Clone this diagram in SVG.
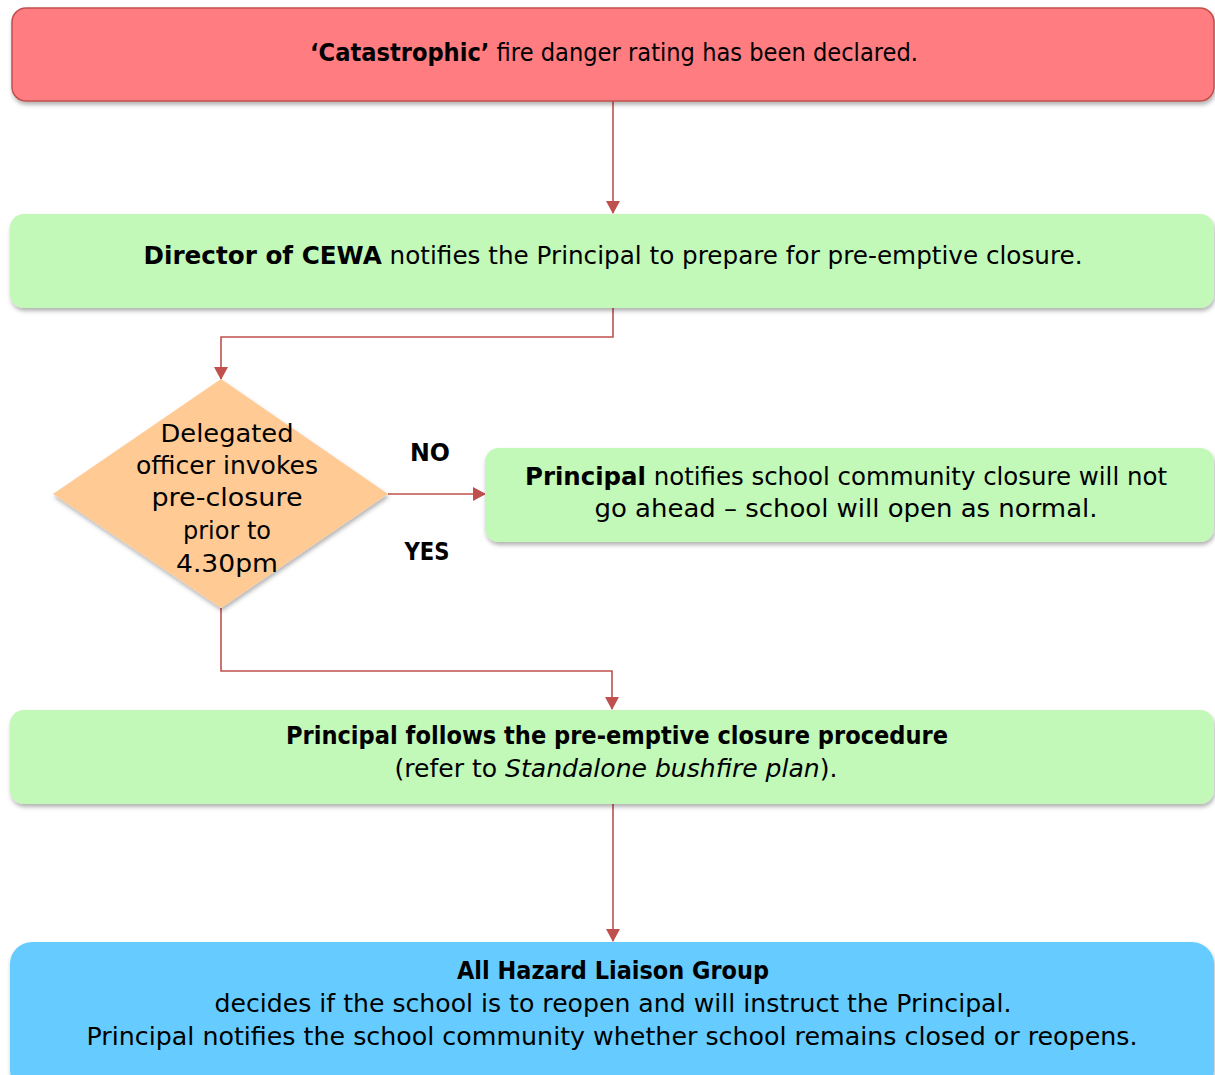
<svg xmlns="http://www.w3.org/2000/svg" width="1215" height="1075" viewBox="0 0 1215 1075">
<style>
text{font-family:"DejaVu Sans","Liberation Sans",sans-serif;fill:#000;}
.t{font-size:24px;text-anchor:middle;}
.b{font-weight:bold;}
.con{fill:none;stroke:#C0504D;stroke-width:1.6;}
</style>
<defs>
<filter id="sh" x="-5%" y="-20%" width="110%" height="150%">
<feDropShadow dx="1" dy="3" stdDeviation="2" flood-color="#000" flood-opacity="0.3"/>
</filter>
<marker id="ah" markerWidth="14" markerHeight="14" refX="12" refY="7" orient="auto" markerUnits="userSpaceOnUse">
<path d="M0,0 L13,7 L0,14 Z" fill="#C0504D"/>
</marker>
</defs>
<rect width="1215" height="1075" fill="#fff"/>
<g id="connectors">
<path class="con" d="M613,101 V213" marker-end="url(#ah)"/>
<path class="con" d="M613,308 V337 H221 V379" marker-end="url(#ah)"/>
<path class="con" d="M388,494 H485" marker-end="url(#ah)"/>
<path class="con" d="M221,608 V671 H612 V709" marker-end="url(#ah)"/>
<path class="con" d="M613,804 V941" marker-end="url(#ah)"/>
</g>
<g id="n1">
<rect x="12" y="8" width="1202" height="93" rx="14" fill="#FF7C80" stroke="#C0504D" stroke-width="1.5" filter="url(#sh)"/>
<text class="t" x="614" y="61" textLength="608" lengthAdjust="spacingAndGlyphs"><tspan class="b">‘Catastrophic’</tspan> fire danger rating has been declared.</text>
</g>
<g id="n2">
<rect x="10" y="214" width="1204" height="94" rx="14" fill="#C2F8B8" filter="url(#sh)"/>
<text class="t" x="613" y="264" textLength="939" lengthAdjust="spacingAndGlyphs"><tspan class="b">Director of CEWA</tspan> notifies the Principal to prepare for pre-emptive closure.</text>
</g>
<g id="n3">
<path d="M221,379 L388,494 L221,608 L53,494 Z" fill="#FFCA94" filter="url(#sh)"/>
<text class="t" x="227" y="442" font-size="26" textLength="133" lengthAdjust="spacingAndGlyphs">Delegated</text>
<text class="t" x="227" y="474" font-size="24" textLength="182" lengthAdjust="spacingAndGlyphs">officer invokes</text>
<text class="t" x="227" y="506" font-size="26" textLength="151" lengthAdjust="spacingAndGlyphs">pre-closure</text>
<text class="t" x="227" y="539" font-size="23" textLength="88" lengthAdjust="spacingAndGlyphs">prior to</text>
<text class="t" x="227" y="572" font-size="26" textLength="102" lengthAdjust="spacingAndGlyphs">4.30pm</text>
</g>
<g id="lbl">
<text class="b" x="430" y="461" font-size="24" text-anchor="middle" textLength="40" lengthAdjust="spacingAndGlyphs">NO</text>
<text class="b" x="427" y="560" font-size="24" text-anchor="middle" textLength="45" lengthAdjust="spacingAndGlyphs">YES</text>
</g>
<g id="n4">
<rect x="485" y="448" width="729" height="94" rx="14" fill="#C2F8B8" filter="url(#sh)"/>
<text class="t" x="846" y="485" textLength="642" lengthAdjust="spacingAndGlyphs"><tspan class="b">Principal</tspan> notifies school community closure will not</text>
<text class="t" x="846" y="517" textLength="503" lengthAdjust="spacingAndGlyphs">go ahead – school will open as normal.</text>
</g>
<g id="n5">
<rect x="10" y="710" width="1204" height="94" rx="14" fill="#C2F8B8" filter="url(#sh)"/>
<text class="t b" x="617" y="744" textLength="662" lengthAdjust="spacingAndGlyphs">Principal follows the pre-emptive closure procedure</text>
<text class="t" x="616" y="777" textLength="443" lengthAdjust="spacingAndGlyphs">(refer to <tspan font-style="italic">Standalone bushfire plan</tspan>).</text>
</g>
<g id="n6">
<rect x="10" y="942" width="1204" height="150" rx="22" fill="#66CCFF" filter="url(#sh)"/>
<text class="t b" x="613" y="979" textLength="312" lengthAdjust="spacingAndGlyphs">All Hazard Liaison Group</text>
<text class="t" x="613" y="1012" textLength="797" lengthAdjust="spacingAndGlyphs">decides if the school is to reopen and will instruct the Principal.</text>
<text class="t" x="612" y="1045" textLength="1051" lengthAdjust="spacingAndGlyphs">Principal notifies the school community whether school remains closed or reopens.</text>
</g>
</svg>
